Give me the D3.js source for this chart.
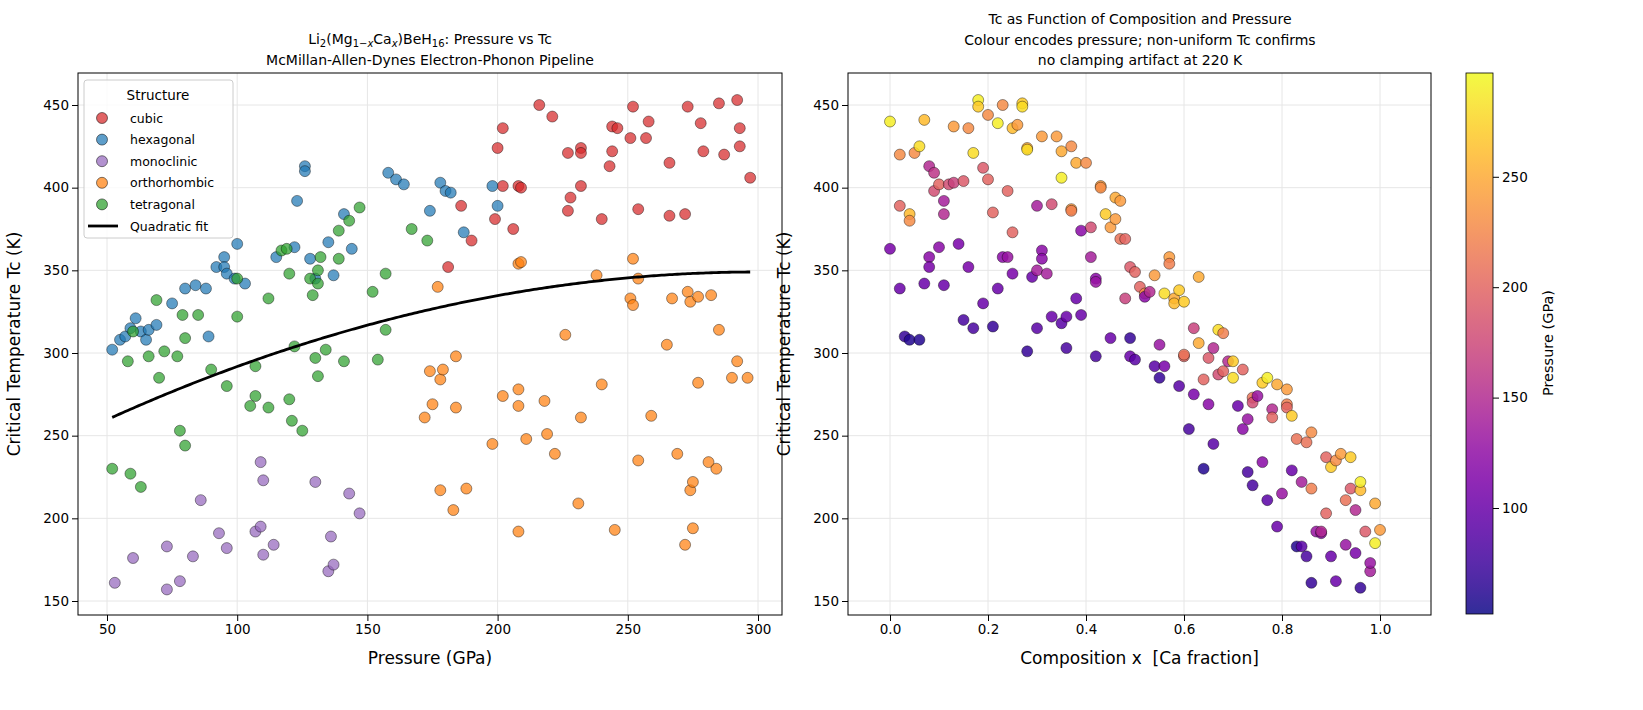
<!DOCTYPE html>
<html><head><meta charset="utf-8">
<script src="https://cdn.jsdelivr.net/npm/d3@7"></script>
<style>body{margin:0;background:#fff;font-family:"DejaVu Sans",sans-serif}</style>
</head><body><svg id="c" width="1643" height="710"></svg>
<script>
const structures=["cubic","hexagonal","monoclinic","orthorhombic","tetragonal"];
const structColors=["#d62728","#1f77b4","#9467bd","#ff7f0e","#2ca02c"];
const cubic=[[216,450],[221,443],[200,424],[202,436],[208,401],[206,375],[199,381],[190,368],[186,389],[181,352],[202,401],[209,400],[227,421],[228,394],[232,424],[232,421],[227,386],[232,401],[240,381],[243,413],[244,422],[244,437],[246,436],[251,430],[252,449],[254,387],[257,430],[258,440],[266,415],[266,383],[272,384],[273,449],[278,439],[279,422],[285,451],[287,420],[292,453],[293,425],[293,436],[297,406]];
const hexagonal=[[52,302],[55,308],[57,310],[59,315],[61,321],[63,313],[65,308],[66,314],[69,317],[75,330],[80,339],[84,341],[88,339],[89,310],[92,352],[95,358],[95,352],[96,348],[99,345],[100,366],[103,342],[115,358],[123,392],[126,413],[126,410],[128,357],[130,345],[135,367],[137,347],[141,384],[144,363],[158,409],[161,405],[164,402],[174,386],[178,403],[180,398],[182,397],[187,373],[198,401],[200,389],[122,364]];
const monoclinic=[[53,161],[60,176],[73,157],[73,183],[78,162],[83,177],[86,211],[93,191],[96,182],[107,192],[109,195],[109,234],[110,223],[110,178],[114,184],[130,222],[135,168],[136,189],[137,172],[143,215],[147,203]];
const orthorhombic=[[172,261],[174,289],[175,269],[177,340],[178,217],[178,284],[179,290],[183,205],[184,267],[184,298],[188,218],[198,245],[202,274],[208,278],[208,268],[208,192],[208,354],[209,355],[211,248],[218,271],[219,251],[222,239],[226,311],[231,209],[232,261],[238,347],[240,281],[245,193],[251,333],[252,357],[252,329],[254,345],[254,235],[259,262],[265,305],[267,333],[269,239],[272,184],[273,337],[274,331],[274,217],[275,222],[275,194],[277,334],[277,282],[281,234],[282,335],[284,230],[285,314],[290,285],[292,295],[296,285]];
const tetragonal=[[52,230],[59,227],[63,219],[60,313],[58,295],[66,298],[69,332],[70,285],[72,301],[77,298],[78,253],[79,323],[80,244],[80,309],[85,323],[90,290],[96,280],[100,322],[100,345],[105,268],[107,292],[107,274],[112,267],[112,333],[117,362],[119,363],[120,272],[120,348],[121,259],[122,304],[125,253],[128,345],[129,335],[130,297],[131,286],[131,342],[131,350],[132,358],[134,302],[139,374],[139,357],[141,295],[143,380],[147,388],[152,337],[154,296],[157,348],[157,314],[167,375],[173,368]];
const structData=[cubic,hexagonal,monoclinic,orthorhombic,tetragonal];
// quadratic fit: Tc = vertexTc - k (P - vertexP)^2
const fitVertexP=300, fitVertexTc=349, fitK=0.00143, fitRange=[52,297];
// right panel: [x, Tc, pressure]
const compData=[[0.00,440,290],[0.00,363,110],[0.02,420,230],[0.02,389,200],[0.02,339,100],[0.03,310,70],[0.04,308,60],[0.04,384,260],[0.04,380,230],[0.05,421,230],[0.06,425,280],[0.06,308,60],[0.07,441,260],[0.07,342,100],[0.08,358,120],[0.08,352,110],[0.08,413,150],[0.09,398,180],[0.09,409,160],[0.10,364,120],[0.10,402,200],[0.11,392,140],[0.11,341,100],[0.11,384,150],[0.12,402,180],[0.13,437,240],[0.13,403,170],[0.14,366,110],[0.15,320,80],[0.15,404,190],[0.16,436,230],[0.16,352,110],[0.17,315,80],[0.17,421,280],[0.18,453,290],[0.18,449,270],[0.19,412,190],[0.19,330,100],[0.20,444,230],[0.20,405,200],[0.21,385,200],[0.21,316,70],[0.22,339,100],[0.22,439,290],[0.23,450,230],[0.23,358,120],[0.24,398,200],[0.24,358,130],[0.25,373,200],[0.25,348,110],[0.25,436,260],[0.26,438,240],[0.27,451,270],[0.27,449,280],[0.28,424,250],[0.28,423,280],[0.28,301,70],[0.29,346,100],[0.30,315,90],[0.30,389,140],[0.30,350,140],[0.31,362,120],[0.31,357,120],[0.31,431,240],[0.32,348,140],[0.33,390,180],[0.33,322,100],[0.34,431,240],[0.35,318,90],[0.35,406,290],[0.35,422,250],[0.36,303,80],[0.36,322,100],[0.37,387,240],[0.37,386,220],[0.37,425,230],[0.38,415,250],[0.38,333,100],[0.39,374,120],[0.39,323,100],[0.40,415,230],[0.41,358,140],[0.41,376,180],[0.42,298,80],[0.42,345,120],[0.42,343,130],[0.43,401,240],[0.43,400,230],[0.44,384,270],[0.45,376,240],[0.45,309,100],[0.46,394,250],[0.46,381,240],[0.47,369,210],[0.47,392,240],[0.48,369,200],[0.48,333,170],[0.49,352,190],[0.49,309,70],[0.49,298,100],[0.50,349,200],[0.50,296,90],[0.51,340,200],[0.52,336,230],[0.52,334,120],[0.53,337,150],[0.54,347,240],[0.54,292,90],[0.55,285,70],[0.55,305,130],[0.56,292,110],[0.56,336,280],[0.57,358,240],[0.57,354,220],[0.58,333,250],[0.58,330,260],[0.59,338,270],[0.59,280,90],[0.60,331,270],[0.60,298,200],[0.60,299,210],[0.61,254,80],[0.62,275,110],[0.62,315,170],[0.63,346,250],[0.63,306,250],[0.64,230,60],[0.64,284,200],[0.65,297,190],[0.65,269,120],[0.66,245,90],[0.66,303,150],[0.67,314,280],[0.67,287,180],[0.68,312,220],[0.68,289,200],[0.69,295,150],[0.70,295,270],[0.70,285,280],[0.71,268,100],[0.72,290,200],[0.72,254,120],[0.73,260,130],[0.73,228,80],[0.74,273,210],[0.74,270,180],[0.74,220,80],[0.75,274,130],[0.76,282,270],[0.76,234,120],[0.77,211,90],[0.77,285,290],[0.78,266,150],[0.78,261,200],[0.79,195,100],[0.79,281,250],[0.80,215,130],[0.81,278,240],[0.81,269,220],[0.81,267,200],[0.82,262,270],[0.82,229,100],[0.83,183,60],[0.83,248,210],[0.84,183,90],[0.84,222,140],[0.85,177,80],[0.85,246,210],[0.86,252,230],[0.86,161,70],[0.86,218,220],[0.87,192,130],[0.88,191,120],[0.88,192,150],[0.89,237,200],[0.89,203,200],[0.90,231,270],[0.90,177,100],[0.91,162,100],[0.91,235,230],[0.92,239,240],[0.93,184,130],[0.93,211,210],[0.94,218,190],[0.94,237,270],[0.95,205,150],[0.95,179,110],[0.96,158,70],[0.96,217,260],[0.96,222,290],[0.97,192,190],[0.98,168,140],[0.98,173,130],[0.99,209,250],[0.99,185,290],[1.00,193,240]];
const pTicksL=[50,100,150,200,250,300], tcTicks=[150,200,250,300,350,400,450], xTicksR=[0,0.2,0.4,0.6,0.8,1.0], cbTicks=[100,150,200,250];

const svg=d3.select("#c");
const T=[73,615];
const y=d3.scaleLinear().domain([150,450]).range([601,105]);
function axes(x,x0,x1,xt,fmt,xl){
  const g=svg.append("g");
  g.append("g").selectAll("line").data(xt).join("line").attr("x1",d=>x(d)).attr("x2",d=>x(d)).attr("y1",T[0]).attr("y2",T[1]).attr("stroke","#e6e6e6");
  g.append("g").selectAll("line").data(tcTicks).join("line").attr("x1",x0).attr("x2",x1).attr("y1",d=>y(d)).attr("y2",d=>y(d)).attr("stroke","#e6e6e6");
  g.append("g").attr("transform",`translate(0,${T[1]})`).call(d3.axisBottom(x).tickValues(xt).tickFormat(fmt).tickSizeOuter(0)).call(a=>a.select(".domain").remove()).selectAll("text").attr("font-size",13.5).attr("font-family","DejaVu Sans").attr("fill","#000");
  g.append("g").attr("transform",`translate(${x0},0)`).call(d3.axisLeft(y).tickValues(tcTicks).tickSizeOuter(0)).call(a=>a.select(".domain").remove()).selectAll("text").attr("font-size",13.5).attr("font-family","DejaVu Sans").attr("fill","#000");
  svg.append("rect").attr("x",x0).attr("y",T[0]).attr("width",x1-x0).attr("height",T[1]-T[0]).attr("fill","none").attr("stroke","#000");
  svg.append("text").attr("x",(x0+x1)/2).attr("y",664).attr("text-anchor","middle").attr("font-size",17).attr("xml:space","preserve").style("white-space","pre").text(xl);
  svg.append("text").attr("transform",`translate(${x0-58},${(T[0]+T[1])/2}) rotate(-90)`).attr("text-anchor","middle").attr("font-size",17).text("Critical Temperature Tc (K)");
}
// Left
const xL=d3.scaleLinear().domain([50,300]).range([107,758]);
axes(xL,78,782,pTicksL,d3.format("d"),"Pressure (GPa)");
structData.forEach((arr,i)=>{
  svg.append("g").selectAll("circle").data(arr).join("circle").attr("cx",d=>xL(d[0])).attr("cy",d=>y(d[1])).attr("r",5.5)
   .attr("fill",structColors[i]).attr("fill-opacity",0.72).attr("stroke","#000").attr("stroke-width",0.5).attr("stroke-opacity",0.8);
});
const fitP=d3.range(fitRange[0],fitRange[1]+0.1,1);
svg.append("path").attr("d",d3.line().x(p=>xL(p)).y(p=>y(fitVertexTc-fitK*(p-fitVertexP)**2))(fitP)).attr("fill","none").attr("stroke","#000").attr("stroke-width",2.8);
const t1=svg.append("text").attr("x",430).attr("y",44).attr("text-anchor","middle").attr("font-size",14);
t1.append("tspan").text("Li");t1.append("tspan").attr("font-size",10).attr("dy",3).text("2");
t1.append("tspan").attr("dy",-3).text("(Mg");t1.append("tspan").attr("font-size",10).attr("dy",3).text("1−");
t1.append("tspan").attr("font-size",10).attr("font-style","italic").text("x");
t1.append("tspan").attr("dy",-3).text("Ca");t1.append("tspan").attr("font-size",10).attr("dy",3).attr("font-style","italic").text("x");
t1.append("tspan").attr("dy",-3).text(")BeH");t1.append("tspan").attr("font-size",10).attr("dy",3).text("16");
t1.append("tspan").attr("dy",-3).text(": Pressure vs Tc");
svg.append("text").attr("x",430).attr("y",65).attr("text-anchor","middle").attr("font-size",14).text("McMillan-Allen-Dynes Electron-Phonon Pipeline");
// legend
const lg=svg.append("g");
lg.append("rect").attr("x",84).attr("y",80).attr("width",149).attr("height",158).attr("rx",3).attr("fill","#fff").attr("fill-opacity",0.8).attr("stroke","#ccc");
lg.append("text").attr("x",158).attr("y",100).attr("text-anchor","middle").attr("font-size",13.5).text("Structure");
structures.forEach((s,i)=>{
  const yy=118+i*21.6;
  lg.append("circle").attr("cx",102).attr("cy",yy).attr("r",5.5).attr("fill",structColors[i]).attr("fill-opacity",0.72).attr("stroke","#000").attr("stroke-width",0.5);
  lg.append("text").attr("x",130).attr("y",yy+4.5).attr("font-size",12.5).text(s);
});
const ly=118+5*21.6;
lg.append("line").attr("x1",88).attr("x2",118).attr("y1",ly).attr("y2",ly).attr("stroke","#000").attr("stroke-width",2.8);
lg.append("text").attr("x",130).attr("y",ly+4.5).attr("font-size",12.5).text("Quadratic fit");
// Right
const xR=d3.scaleLinear().domain([0,1]).range([890,1380]);
axes(xR,848,1431,xTicksR,d3.format(".1f"),"Composition x\u00a0\u00a0[Ca fraction]");
const pDom=[52,297];
const col=d3.scaleSequential(d3.interpolatePlasma).domain(pDom);
svg.append("g").selectAll("circle").data(compData).join("circle").attr("cx",d=>xR(d[0])).attr("cy",d=>y(d[1])).attr("r",5.5)
  .attr("fill",d=>col(d[2])).attr("fill-opacity",0.85).attr("stroke","#000").attr("stroke-width",0.5).attr("stroke-opacity",0.8);
["Tc as Function of Composition and Pressure","Colour encodes pressure; non-uniform Tc confirms","no clamping artifact at 220 K"].forEach((t,i)=>
  svg.append("text").attr("x",1140).attr("y",24+i*20.5).attr("text-anchor","middle").attr("font-size",14).text(t));
// colorbar
const defs=svg.append("defs");
const gr=defs.append("linearGradient").attr("id","cb").attr("x1",0).attr("x2",0).attr("y1",1).attr("y2",0);
d3.range(0,1.001,0.05).forEach(t=>gr.append("stop").attr("offset",t).attr("stop-color",d3.interpolatePlasma(t)).attr("stop-opacity",0.85));
const cy=d3.scaleLinear().domain(pDom).range([614,73]);
svg.append("rect").attr("x",1466).attr("y",73).attr("width",27).attr("height",541).attr("fill","url(#cb)").attr("stroke","#000").attr("stroke-width",0.8);
svg.append("g").attr("transform","translate(1493,0)").call(d3.axisRight(cy).tickValues(cbTicks).tickSizeOuter(0)).call(a=>a.select(".domain").remove()).selectAll("text").attr("font-size",13.5).attr("font-family","DejaVu Sans").attr("fill","#000");
svg.append("text").attr("transform","translate(1553,343) rotate(-90)").attr("text-anchor","middle").attr("font-size",14.5).text("Pressure (GPa)");
</script></body></html>
